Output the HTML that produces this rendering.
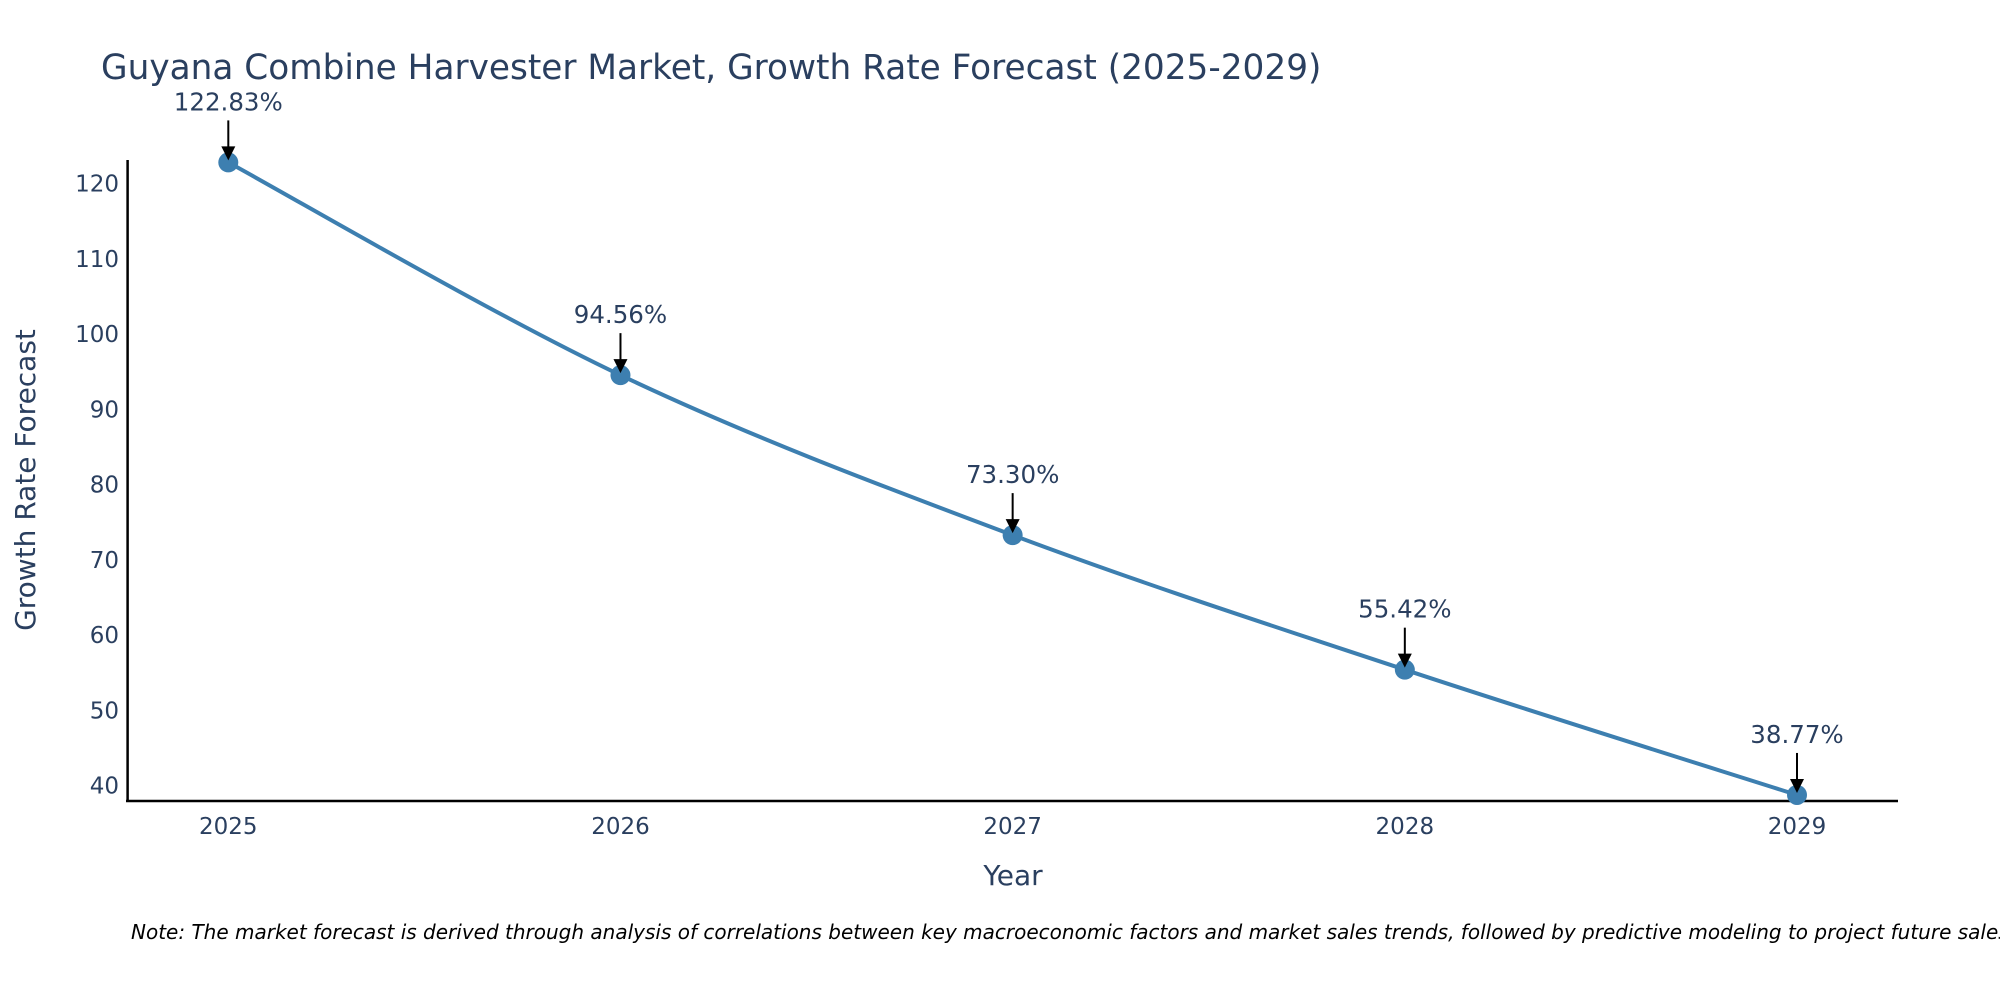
<!DOCTYPE html>
<html><head><meta charset="utf-8"><style>
body{margin:0;background:#fff;}
svg{display:block;font-family:"DejaVu Sans","Liberation Sans",sans-serif;}
</style></head><body>
<svg id="chart" width="2000" height="1000" viewBox="0 0 2000 1000">
<text x="101" y="79" font-size="34.3" fill="#2a3f5f">Guyana Combine Harvester Market, Growth Rate Forecast (2025-2029)</text>
<g id="yticks"></g>
<g id="xticks"></g>
<line x1="127.6" y1="160" x2="127.6" y2="802" stroke="#000" stroke-width="2.5"/>
<line x1="126" y1="801" x2="1898" y2="801" stroke="#000" stroke-width="2.5"/>
<text transform="translate(35,480) rotate(-90)" text-anchor="middle" font-size="28" fill="#2a3f5f">Growth Rate Forecast</text>
<text x="1013" y="885" text-anchor="middle" font-size="28" fill="#2a3f5f">Year</text>
<g id="series"></g>
<g id="annots"></g>
<text x="131" y="939" font-size="20" font-style="italic" fill="#000">Note: The market forecast is derived through analysis of correlations between key macroeconomic factors and market sales trends, followed by predictive modeling to project future sales.</text>
</svg>
<script>
const years = [2025, 2026, 2027, 2028, 2029];
const values = [122.83, 94.56, 73.30, 55.42, 38.77];
const labels = ["122.83%", "94.56%", "73.30%", "55.42%", "38.77%"];
const yTicks = [40, 50, 60, 70, 80, 90, 100, 110, 120];
const NS = "http://www.w3.org/2000/svg";
function xS(v){ return 228.3 + (v - 2025) * (1797 - 228.3) / 4; }
function yS(v){ return 785.7 - (v - 40) * (785.7 - 183.7) / 80; }
function mk(tag, attrs, parent){ const e = document.createElementNS(NS, tag); for (const k in attrs) e.setAttribute(k, attrs[k]); parent.appendChild(e); return e; }
const yt = document.getElementById('yticks');
yTicks.forEach(t => {
  const e = mk('text', {x: 119, y: yS(t) + 8, 'text-anchor': 'end', 'font-size': 23, fill: '#2a3f5f'}, yt);
  
  
  e.textContent = t;
});
const xt = document.getElementById('xticks');
years.forEach(y => {
  const e = mk('text', {x: xS(y), y: 834, 'text-anchor': 'middle', 'font-size': 23, fill: '#2a3f5f'}, xt);
  
  
  e.textContent = y;
});
const pts = years.map((y, i) => [xS(y), yS(values[i])]);
let d = `M${pts[0][0]},${pts[0][1]}`;
for (let i = 0; i < pts.length - 1; i++) {
  const p0 = pts[Math.max(0, i - 1)], p1 = pts[i], p2 = pts[i + 1], p3 = pts[Math.min(pts.length - 1, i + 2)];
  const t = 0.5 / 3;
  d += ` C${p1[0] + (p2[0] - p0[0]) * t},${p1[1] + (p2[1] - p0[1]) * t} ${p2[0] - (p3[0] - p1[0]) * t},${p2[1] - (p3[1] - p1[1]) * t} ${p2[0]},${p2[1]}`;
}
const s = document.getElementById('series');
const line = mk('path', {d: d, fill: 'none', stroke: '#3d7fb0', 'stroke-width': 4}, s);


const an = document.getElementById('annots');
pts.forEach((p, i) => {
  const c = mk('circle', {cx: p[0], cy: p[1], r: 10, fill: '#3d7fb0'}, s);
  
  
  const l = mk('line', {x1: p[0], y1: p[1] - 42, x2: p[0], y2: p[1] - 14, stroke: '#000', 'stroke-width': 2}, an);
  
  
  const h = mk('polygon', {points: `${p[0]-7},${p[1]-16} ${p[0]+7},${p[1]-16} ${p[0]},${p[1]-2}`, fill: '#000'}, an);
  
  
  const tx = mk('text', {x: p[0], y: p[1] - 52, 'text-anchor': 'middle', 'font-size': 24.5, fill: '#2a3f5f'}, an);
  
  
  tx.textContent = labels[i];
});
</script>
</body></html>
